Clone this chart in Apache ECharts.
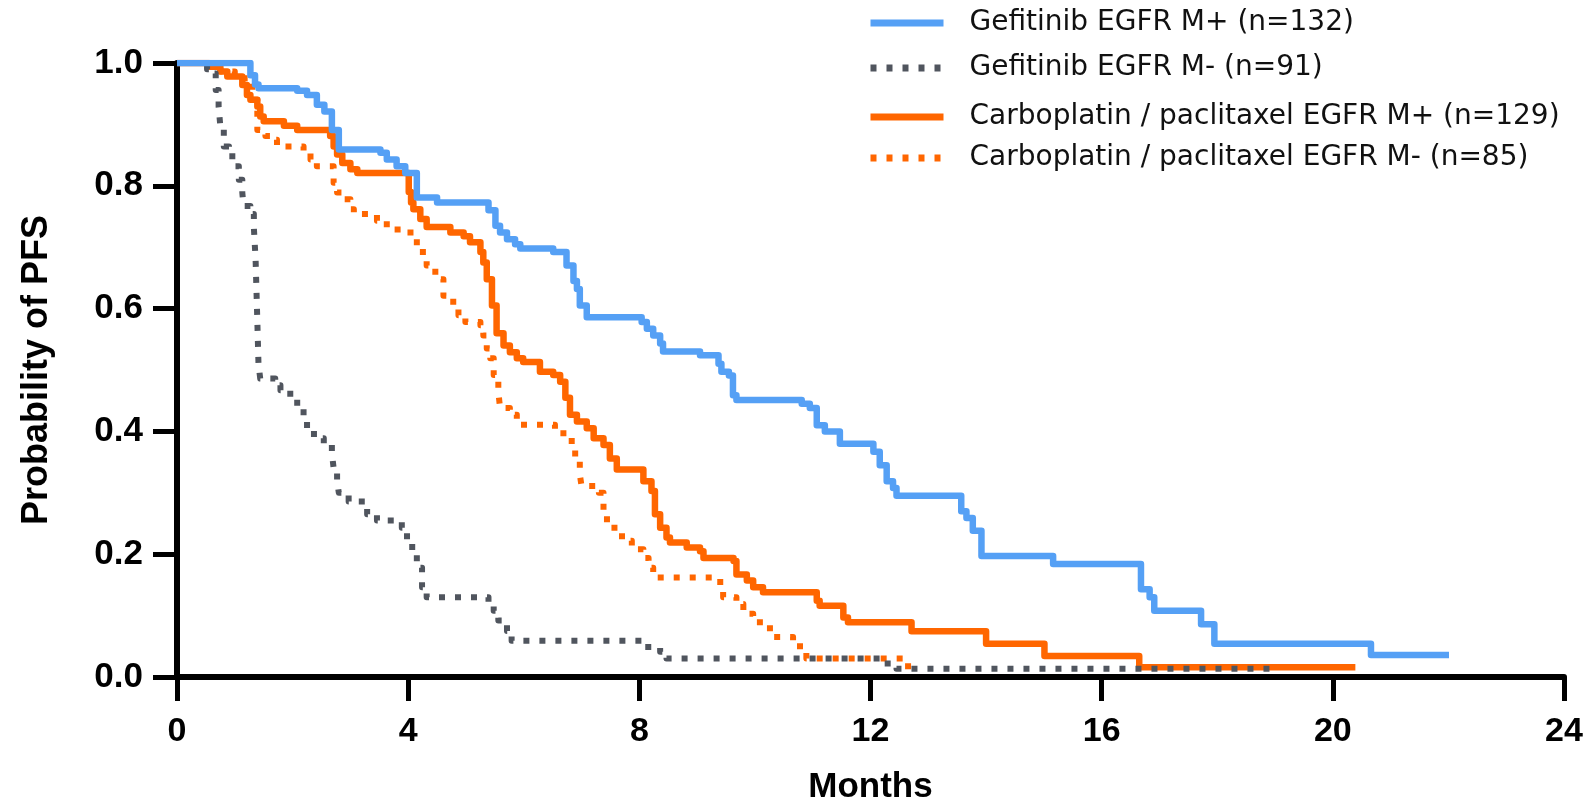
<!DOCTYPE html>
<html>
<head>
<meta charset="utf-8">
<script src="https://cdn.jsdelivr.net/npm/echarts@6/dist/echarts.min.js"></script>
<style>html,body{margin:0;padding:0;background:#fff;}#c{width:1594px;height:810px;}</style>
</head>
<body>
<div id="c"></div>
<script>
// ---- Data (months, probability of PFS) ----
const xTicks = [0, 4, 8, 12, 16, 20, 24];
const yTicks = [0.0, 0.2, 0.4, 0.6, 0.8, 1.0];

const seriesNames = [
  'Gefitinib EGFR M+ (n=132)',
  'Gefitinib EGFR M- (n=91)',
  'Carboplatin / paclitaxel EGFR M+ (n=129)',
  'Carboplatin / paclitaxel EGFR M- (n=85)'
];

const gefMplus = [
  [0,1.0],[1.27,0.98],[1.35,0.965],[1.41,0.959],[2.08,0.955],[2.25,0.948],[2.42,0.932],[2.55,0.921],
  [2.68,0.891],[2.80,0.859],[3.52,0.854],[3.63,0.843],[3.80,0.832],[3.95,0.821],[4.15,0.781],[4.50,0.773],
  [5.39,0.76],[5.51,0.735],[5.59,0.724],[5.71,0.713],[5.85,0.705],[5.94,0.698],[6.51,0.692],[6.74,0.670],
  [6.86,0.645],[6.92,0.632],[6.97,0.605],[7.09,0.586],[8.04,0.578],[8.13,0.567],[8.24,0.556],[8.36,0.543],
  [8.41,0.53],[9.05,0.524],[9.37,0.51],[9.42,0.497],[9.55,0.491],[9.62,0.459],[9.68,0.451],[10.81,0.445],
  [10.95,0.438],[11.07,0.41],[11.21,0.40],[11.47,0.38],[12.05,0.367],[12.16,0.345],[12.28,0.319],[12.39,0.308],
  [12.45,0.295],[13.57,0.27],[13.66,0.259],[13.77,0.238],[13.92,0.197],[15.16,0.184],[16.68,0.143],[16.83,0.13],
  [16.91,0.108],[17.72,0.086],[17.95,0.054],[20.66,0.036],[22.01,0.036]
];

const gefMminus = [
  [0,1.0],[0.52,0.99],[0.58,0.983],[0.67,0.956],[0.72,0.929],[0.75,0.897],[0.81,0.864],[0.90,0.848],
  [1.01,0.832],[1.07,0.810],[1.13,0.789],[1.15,0.767],[1.27,0.754],[1.33,0.732],[1.36,0.68],[1.39,0.58],
  [1.41,0.51],[1.44,0.486],[1.70,0.475],[1.79,0.467],[1.96,0.454],[2.08,0.438],[2.19,0.421],[2.25,0.405],
  [2.37,0.389],[2.54,0.378],[2.68,0.365],[2.71,0.340],[2.77,0.319],[2.80,0.300],[2.97,0.286],[3.29,0.265],
  [3.46,0.255],[3.89,0.243],[3.98,0.222],[4.07,0.205],[4.15,0.178],[4.24,0.146],[4.32,0.130],[5.39,0.120],
  [5.48,0.108],[5.56,0.092],[5.71,0.075],[5.79,0.059],[8.07,0.049],[8.36,0.041],[8.47,0.030],[12.22,0.022],
  [12.45,0.0135],[19.07,0.0135]
];

const carboMplus = [
  [0,1.0],[0.55,0.994],[0.75,0.986],[0.87,0.978],[1.13,0.964],[1.21,0.948],[1.27,0.94],[1.39,0.929],
  [1.44,0.913],[1.50,0.905],[1.85,0.898],[2.08,0.891],[2.65,0.881],[2.71,0.864],[2.77,0.851],[2.86,0.837],
  [3.0,0.827],[3.12,0.821],[4.01,0.79],[4.05,0.773],[4.09,0.762],[4.21,0.746],[4.32,0.733],[4.73,0.724],
  [4.96,0.718],[5.07,0.708],[5.25,0.692],[5.30,0.675],[5.36,0.648],[5.45,0.605],[5.53,0.56],[5.65,0.540],
  [5.76,0.529],[5.88,0.519],[5.99,0.513],[6.28,0.497],[6.51,0.492],[6.63,0.481],[6.72,0.455],[6.80,0.427],
  [6.92,0.416],[7.09,0.405],[7.21,0.389],[7.38,0.378],[7.49,0.356],[7.61,0.338],[8.07,0.319],[8.21,0.303],
  [8.27,0.265],[8.36,0.243],[8.47,0.227],[8.53,0.219],[8.82,0.211],[9.05,0.205],[9.11,0.194],[9.63,0.189],
  [9.68,0.167],[9.86,0.157],[9.97,0.146],[10.14,0.138],[11.07,0.124],[11.12,0.116],[11.53,0.097],[11.61,0.089],
  [12.71,0.0745],[14.0,0.054],[15.01,0.034],[16.65,0.016],[20.39,0.016]
];

const carboMminus = [
  [0,1.0],[0.75,0.986],[1.0,0.975],[1.3,0.94],[1.39,0.891],[1.53,0.881],[1.62,0.875],[1.73,0.864],
  [2.19,0.854],[2.31,0.843],[2.42,0.832],[2.71,0.805],[2.77,0.789],[2.86,0.778],[3.0,0.762],[3.06,0.754],
  [3.46,0.743],[3.63,0.729],[4.04,0.718],[4.15,0.692],[4.32,0.670],[4.47,0.648],[4.61,0.621],[4.78,0.605],
  [4.87,0.589],[4.99,0.578],[5.25,0.573],[5.30,0.556],[5.36,0.535],[5.42,0.519],[5.48,0.492],[5.56,0.465],
  [5.59,0.438],[5.76,0.427],[5.88,0.411],[6.54,0.397],[6.83,0.373],[6.89,0.351],[6.97,0.330],[7.0,0.311],
  [7.30,0.300],[7.38,0.265],[7.44,0.243],[7.64,0.235],[7.70,0.222],[7.87,0.208],[8.07,0.194],[8.16,0.178],
  [8.24,0.162],[9.40,0.146],[9.45,0.130],[9.68,0.119],[9.80,0.103],[9.97,0.089],[10.26,0.065],[10.66,0.059],
  [10.78,0.041],[10.89,0.030],[12.65,0.011]
];

// ---- Styles ----
const colors = ['#55A0F5', '#50555E', '#FF6600', '#FF6600'];
const dashed = [false, true, false, true];
const allData = [gefMplus, gefMminus, carboMplus, carboMminus];
const legendTops = [6, 51, 100, 141];

const chart = echarts.init(document.getElementById('c'), null, {renderer: 'canvas'});

const option = {
  backgroundColor: '#ffffff',
  animation: false,
  grid: {left: 177, right: 30, top: 63, bottom: 130, containLabel: false},
  xAxis: {
    type: 'value', min: 0, max: 24, interval: 4,
    name: 'Months', nameLocation: 'middle', nameGap: 93,
    nameTextStyle: {fontFamily: 'Liberation Sans, Arial, sans-serif', fontWeight: 'bold', fontSize: 35, color: '#000'},
    axisLine: {lineStyle: {color: '#000', width: 6}},
    axisTick: {show: true, length: 24, lineStyle: {color: '#000', width: 5}},
    axisLabel: {fontFamily: 'Liberation Sans, Arial, sans-serif', fontWeight: 'bold', fontSize: 34, color: '#000', margin: 38,
      formatter: v => xTicks.includes(v) ? String(v) : ''},
    splitLine: {show: false}
  },
  yAxis: {
    type: 'value', min: 0, max: 1, interval: 0.2,
    name: 'Probability of PFS', nameLocation: 'middle', nameGap: 122, nameRotate: 90,
    nameTextStyle: {fontFamily: 'Liberation Sans, Arial, sans-serif', fontWeight: 'bold', fontSize: 36, color: '#000'},
    axisLine: {lineStyle: {color: '#000', width: 6}},
    axisTick: {show: true, length: 24, lineStyle: {color: '#000', width: 5}},
    axisLabel: {fontFamily: 'Liberation Sans, Arial, sans-serif', fontWeight: 'bold', fontSize: 35, color: '#000', margin: 34,
      formatter: v => v.toFixed(1)},
    splitLine: {show: false}
  },
  legend: seriesNames.map((n, i) => ({
    data: [n], left: 867, top: legendTops[i], orient: 'vertical', padding: 0,
    itemWidth: 73, itemHeight: 34, selectedMode: false,
    itemStyle: {opacity: 0},
    lineStyle: {width: 7},
    textStyle: {fontFamily: 'DejaVu Sans', fontSize: 28, color: '#111', padding: [0, 0, 0, 21], lineHeight: 34}
  })),
  series: allData.map((d, i) => ({
    name: seriesNames[i],
    type: 'line',
    step: 'end',
    data: d,
    showSymbol: false,
    symbol: 'none',
    z: 10 - i,
    lineStyle: {color: colors[i], width: dashed[i] ? 6 : 6.5, type: dashed[i] ? [6, 10] : 'solid', cap: 'butt', join: 'round'},
    itemStyle: {color: colors[i]}
  }))
};
chart.setOption(option);
</script>
</body>
</html>
